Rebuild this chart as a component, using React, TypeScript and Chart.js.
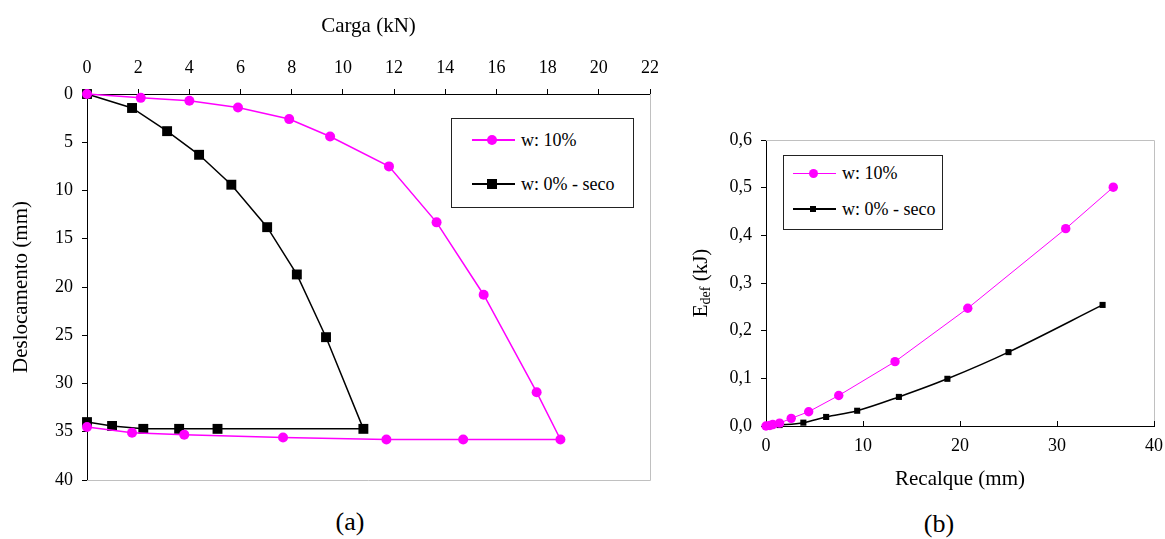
import React, { useEffect, useRef } from 'react';
import { Chart, registerables } from 'chart.js';

Chart.register(...registerables);

const FONT = "'Liberation Serif', 'Times New Roman', Times, serif";
const MAGENTA = '#ff00ff';
const BLACK = '#000000';
const FRAME_GRAY = '#c0c0c0';

// ---------- Chart (a): Carga x Deslocamento ----------
const cargaW10 = [0, 2.1, 4.0, 5.9, 7.9, 9.5, 11.8, 13.66, 15.5, 17.57, 18.5, 14.7, 11.7, 7.66, 3.8, 1.76, 0];
const deslW10 = [0, 0.4, 0.7, 1.4, 2.6, 4.4, 7.5, 13.3, 20.8, 30.9, 35.8, 35.8, 35.8, 35.6, 35.3, 35.1, 34.5];
const cargaSeco = [0, 1.76, 3.13, 4.38, 5.64, 7.04, 8.2, 9.34, 10.8, 5.1, 3.6, 2.2, 0.98, 0];
const deslSeco = [0, 1.45, 3.85, 6.3, 9.4, 13.8, 18.7, 25.2, 34.7, 34.7, 34.7, 34.7, 34.4, 34.0];

// ---------- Chart (b): Recalque x Edef ----------
const recalqueW10 = [0, 0.4, 0.7, 1.4, 2.6, 4.4, 7.5, 13.3, 20.8, 30.9, 35.8];
const edefW10 = [0, 0.001, 0.003, 0.006, 0.016, 0.03, 0.064, 0.135, 0.247, 0.414, 0.501];
const recalqueSeco = [0, 1.4, 3.85, 6.2, 9.4, 13.7, 18.7, 25.0, 34.7];
const edefSeco = [0, 0.002, 0.007, 0.019, 0.032, 0.061, 0.099, 0.155, 0.254];
const edefTickLabels = ['0,0', '0,1', '0,2', '0,3', '0,4', '0,5', '0,6'];

const seriesLabels = ['w: 10%', 'w: 0% - seco'];

const toPoints = (xs: number[], ys: number[]) => xs.map((x, i) => ({ x, y: ys[i] }));

const tickFont = { family: FONT, size: 18 };
const titleFont = { family: FONT, size: 21 };

const frameA = {
  id: 'frameA',
  beforeDatasetsDraw(chart: any) {
    const { ctx, chartArea: a } = chart;
    ctx.save();
    ctx.strokeStyle = FRAME_GRAY;
    ctx.lineWidth = 1;
    const r = Math.round(a.right) + 0.5;
    const b = Math.round(a.bottom) + 0.5;
    ctx.beginPath();
    ctx.moveTo(r, a.top);
    ctx.lineTo(r, b);
    ctx.lineTo(a.left, b);
    ctx.stroke();
    ctx.restore();
  },
};

const frameB = {
  id: 'frameB',
  beforeDatasetsDraw(chart: any) {
    const { ctx, chartArea: a } = chart;
    ctx.save();
    ctx.strokeStyle = FRAME_GRAY;
    ctx.lineWidth = 1;
    const r = Math.round(a.right) + 0.5;
    const t = Math.round(a.top) + 0.5;
    ctx.beginPath();
    ctx.moveTo(a.left, t);
    ctx.lineTo(r, t);
    ctx.lineTo(r, a.bottom);
    ctx.stroke();
    // inward tick marks on the x axis
    const xs = chart.scales.x;
    ctx.strokeStyle = BLACK;
    ctx.beginPath();
    xs.ticks.forEach((tk: any) => {
      const px = Math.round(xs.getPixelForValue(tk.value)) + 0.5;
      ctx.moveTo(px, a.bottom);
      ctx.lineTo(px, a.bottom - 5);
    });
    ctx.stroke();
    ctx.restore();
  },
  afterDraw(chart: any) {
    // y-axis title with subscript: E_def (kJ)
    const { ctx, chartArea: a } = chart;
    const cx = 21;
    const cy = (a.top + a.bottom) / 2;
    ctx.save();
    ctx.translate(cx, cy);
    ctx.rotate(-Math.PI / 2);
    ctx.fillStyle = BLACK;
    ctx.textBaseline = 'alphabetic';
    ctx.textAlign = 'left';
    const big = `21px ${FONT}`;
    const small = `14px ${FONT}`;
    ctx.font = big;
    const wE = ctx.measureText('E').width;
    const wK = ctx.measureText(' (kJ)').width;
    ctx.font = small;
    const wD = ctx.measureText('def').width;
    let x = -(wE + wD + wK) / 2;
    const base = 6;
    ctx.font = big;
    ctx.fillText('E', x, base);
    x += wE;
    ctx.font = small;
    ctx.fillText('def', x, base + 3);
    x += wD;
    ctx.font = big;
    ctx.fillText(' (kJ)', x, base);
    ctx.restore();
  },
};

type LegendItem = { y: number; color: string; marker: 'circle' | 'rect'; size: number; lw: number; label: string };

function LegendBox(props: {
  left: number; top: number; width: number; height: number;
  lineX1: number; lineX2: number; markerX: number; textX: number; fontSize: number;
  items: LegendItem[];
}) {
  const { left, top, width, height, lineX1, lineX2, markerX, textX, fontSize, items } = props;
  return (
    <>
      <div style={{ position: 'absolute', left, top, width, height, border: '1px solid #222', boxSizing: 'border-box', background: '#fff' }} />
      {items.map((it, i) => (
        <React.Fragment key={i}>
          <div style={{ position: 'absolute', left: lineX1, top: it.y - it.lw / 2, width: lineX2 - lineX1, height: it.lw, background: it.color }} />
          <div style={{ position: 'absolute', left: markerX - it.size / 2, top: it.y - it.size / 2, width: it.size, height: it.size, background: it.color, borderRadius: it.marker === 'circle' ? '50%' : 0 }} />
          <div style={{ position: 'absolute', left: textX, top: it.y - 11, height: 22, lineHeight: '22px', fontFamily: FONT, fontSize, color: '#000', whiteSpace: 'pre' }}>{it.label}</div>
        </React.Fragment>
      ))}
    </>
  );
}

export default function App() {
  const refA = useRef<HTMLCanvasElement>(null);
  const refB = useRef<HTMLCanvasElement>(null);

  useEffect(() => {
    const chartA = new Chart(refA.current as HTMLCanvasElement, {
      type: 'scatter',
      data: {
        datasets: [
          {
            label: seriesLabels[0],
            data: toPoints(cargaW10, deslW10),
            showLine: true,
            borderColor: MAGENTA,
            backgroundColor: MAGENTA,
            borderWidth: 1.5,
            pointStyle: 'circle',
            pointRadius: 5,
            pointBorderWidth: 0,
            tension: 0,
            clip: false,
          },
          {
            label: seriesLabels[1],
            data: toPoints(cargaSeco, deslSeco),
            showLine: true,
            borderColor: BLACK,
            backgroundColor: BLACK,
            borderWidth: 1.5,
            pointStyle: 'rect',
            pointRadius: 7,
            pointBorderWidth: 0,
            tension: 0,
            clip: false,
          },
        ],
      },
      options: {
        responsive: false,
        animation: false,
        layout: { padding: { left: 0, top: 0, right: 20, bottom: 20 } },
        plugins: { legend: { display: false }, tooltip: { enabled: false } },
        scales: {
          x: {
            type: 'linear',
            position: 'top',
            min: 0,
            max: 22,
            ticks: { stepSize: 2, padding: 10, color: BLACK, font: tickFont, maxRotation: 0 },
            grid: { drawOnChartArea: false, drawTicks: true, tickLength: 5, tickColor: BLACK },
            border: { color: BLACK, width: 1 },
            title: { display: true, text: 'Carga (kN)', color: BLACK, font: titleFont, padding: { top: 14, bottom: 0 } },
            afterFit(s: any) { s.height = 94; s.paddingLeft = 0; s.paddingRight = 0; },
          },
          y: {
            type: 'linear',
            position: 'left',
            reverse: true,
            min: 0,
            max: 40,
            ticks: { stepSize: 5, padding: 9, color: BLACK, font: tickFont },
            grid: { drawOnChartArea: false, drawTicks: true, tickLength: 5, tickColor: BLACK },
            border: { color: BLACK, width: 1 },
            title: { display: true, text: 'Deslocamento (mm)', color: BLACK, font: titleFont, padding: { top: 9, bottom: 0 } },
            afterFit(s: any) { s.width = 87; s.paddingTop = 0; s.paddingBottom = 0; },
          },
        },
      } as any,
      plugins: [frameA],
    });

    const chartB = new Chart(refB.current as HTMLCanvasElement, {
      type: 'scatter',
      data: {
        datasets: [
          {
            label: seriesLabels[0],
            data: toPoints(recalqueW10, edefW10),
            showLine: true,
            borderColor: MAGENTA,
            backgroundColor: MAGENTA,
            borderWidth: 1,
            pointStyle: 'circle',
            pointRadius: 4.7,
            pointBorderWidth: 0,
            tension: 0,
            clip: false,
          },
          {
            label: seriesLabels[1],
            data: toPoints(recalqueSeco, edefSeco),
            showLine: true,
            borderColor: BLACK,
            backgroundColor: BLACK,
            borderWidth: 1.5,
            pointStyle: 'rect',
            pointRadius: 4.3,
            pointBorderWidth: 0,
            tension: 0.35,
            clip: false,
          },
        ],
      },
      options: {
        responsive: false,
        animation: false,
        layout: { padding: { left: 0, top: 20, right: 11, bottom: 0 } },
        plugins: { legend: { display: false }, tooltip: { enabled: false } },
        scales: {
          x: {
            type: 'linear',
            position: 'bottom',
            min: 0,
            max: 40,
            ticks: { stepSize: 10, padding: 9, color: BLACK, font: tickFont, maxRotation: 0 },
            grid: { drawOnChartArea: false, drawTicks: false },
            border: { color: BLACK, width: 1 },
            title: { display: true, text: 'Recalque (mm)', color: BLACK, font: titleFont, padding: { top: 0, bottom: 8 } },
            afterFit(s: any) { s.height = 74; s.paddingLeft = 0; s.paddingRight = 0; },
          },
          y: {
            type: 'linear',
            position: 'left',
            min: 0,
            max: 0.6,
            ticks: {
              stepSize: 0.1,
              padding: 9,
              color: BLACK,
              font: tickFont,
              callback: (v: any, i: number) => edefTickLabels[i] ?? String(v),
            },
            grid: { drawOnChartArea: false, drawTicks: true, tickLength: 5, tickColor: BLACK },
            border: { color: BLACK, width: 1 },
            title: { display: false },
            afterFit(s: any) { s.width = 86; s.paddingTop = 0; s.paddingBottom = 0; },
          },
        },
      } as any,
      plugins: [frameB],
    });

    return () => {
      chartA.destroy();
      chartB.destroy();
    };
  }, []);

  return (
    <div style={{ position: 'absolute', left: 0, top: 0, width: 1165, height: 539, background: '#fff', overflow: 'hidden' }}>
      <div style={{ position: 'absolute', left: 0, top: 0, width: 670, height: 500 }}>
        <canvas ref={refA} width={670} height={500} style={{ width: 670, height: 500, display: 'block' }} />
      </div>
      <div style={{ position: 'absolute', left: 680, top: 120, width: 485, height: 380 }}>
        <canvas ref={refB} width={485} height={380} style={{ width: 485, height: 380, display: 'block' }} />
      </div>

      <LegendBox
        left={451} top={118} width={183} height={90}
        lineX1={472} lineX2={515} markerX={492} textX={521} fontSize={18}
        items={[
          { y: 140, color: MAGENTA, marker: 'circle', size: 10, lw: 1.5, label: seriesLabels[0] },
          { y: 184, color: BLACK, marker: 'rect', size: 10, lw: 1.5, label: seriesLabels[1] },
        ]}
      />
      <LegendBox
        left={783} top={155} width={160} height={75}
        lineX1={793} lineX2={836} markerX={813} textX={842} fontSize={18}
        items={[
          { y: 173, color: MAGENTA, marker: 'circle', size: 9, lw: 1, label: seriesLabels[0] },
          { y: 209, color: BLACK, marker: 'rect', size: 6, lw: 1.5, label: seriesLabels[1] },
        ]}
      />

      <div style={{ position: 'absolute', left: 350, top: 506, transform: 'translateX(-50%)', fontFamily: FONT, fontSize: 26, lineHeight: '32px', color: '#000' }}>(a)</div>
      <div style={{ position: 'absolute', left: 939, top: 508, transform: 'translateX(-50%)', fontFamily: FONT, fontSize: 26, lineHeight: '32px', color: '#000' }}>(b)</div>
    </div>
  );
}
